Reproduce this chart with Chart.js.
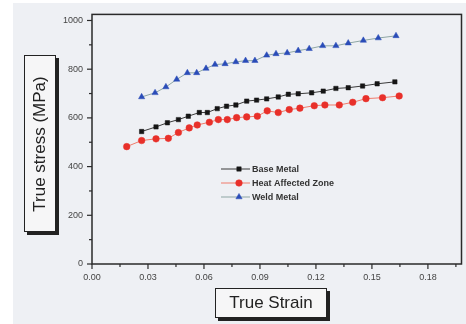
<!DOCTYPE html>
<html>
<head>
<meta charset="utf-8">
<script src="https://cdn.jsdelivr.net/npm/chart.js@4.4.0/dist/chart.umd.min.js"></script>
<style>
  html, body { margin: 0; padding: 0; background: #ffffff; }
  #wrap { position: relative; width: 466px; height: 324px; overflow: hidden; }
  #bg { position: absolute; left: 13px; top: 3px; right: 0; bottom: 0; background: #eef0f4; }
  #c { position: absolute; left: 0; top: 0; }
  .axbox {
    position: absolute; background: #f6f6f7; border: 1.5px solid #222;
    box-shadow: 3px 3px 0 #222; font-family: "Liberation Sans", Arial, sans-serif;
    color: #222; display: flex; align-items: center; justify-content: center;
    white-space: nowrap; box-sizing: border-box;
  }
  #ytitle { left: 24px; top: 55px; width: 32px; height: 177px; }
  #ytitle span { display: inline-block; transform: rotate(-90deg); font-size: 17px; }
  #xtitle { left: 215px; top: 288px; width: 112px; height: 30px; font-size: 17px; }
</style>
</head>
<body>
<div id="wrap">
  <div id="bg"></div>
  <canvas id="c" width="466" height="324"></canvas>
  <div id="ytitle" class="axbox"><span>True stress (MPa)</span></div>
  <div id="xtitle" class="axbox">True Strain</div>
</div>
<script>
// ---- data ----
const seriesNames = ["Base Metal", "Heat Affected Zone", "Weld Metal"];

const baseStrain = [0.0266,0.0343,0.0404,0.0463,0.0516,0.0575,0.0618,0.0671,0.0721,0.0771,0.0829,0.0882,0.0936,0.0998,0.1052,0.1105,0.1177,0.1239,0.1307,0.1373,0.1450,0.1528,0.1623];
const baseStress = [544,563,580,593,607,622,622,638,648,653,669,673,678,686,697,699,703,710,721,724,731,740,748];

const hazStrain = [0.0186,0.0266,0.0343,0.0409,0.0463,0.0521,0.0564,0.0629,0.0677,0.0725,0.0775,0.0829,0.0886,0.0939,0.0998,0.1057,0.1114,0.1191,0.1248,0.1325,0.1397,0.1468,0.1557,0.1646];
const hazStress = [482,507,514,516,540,559,571,582,593,593,601,604,607,629,622,634,640,650,653,653,664,679,683,690];

const weldStrain = [0.0266,0.0338,0.0396,0.0454,0.0511,0.0561,0.0611,0.0659,0.0713,0.0771,0.0823,0.0873,0.0936,0.0986,0.1046,0.1105,0.1164,0.1236,0.1307,0.1373,0.1454,0.1534,0.1629];
const weldStress = [686,703,727,758,785,785,803,819,822,830,835,835,857,863,867,876,884,896,896,907,918,928,937];

const xTickLabels = ["0.00","0.03","0.06","0.09","0.12","0.15","0.18"];
const yTickLabels = ["0","200","400","600","800","1000"];

function toPoints(xs, ys) { return xs.map((x, i) => ({ x: x, y: ys[i] })); }

const styles = [
  { line: "#3a3a3a", fill: "#151515", shape: "rect", r: 3.1 },
  { line: "#f07a6a", fill: "#e8302a", shape: "circle", r: 3.3 },
  { line: "#8ea6a4", fill: "#2a4cb8", shape: "triangle", r: 3.6 }
];
const dataSets = [toPoints(baseStrain, baseStress), toPoints(hazStrain, hazStress), toPoints(weldStrain, weldStress)];

const datasets = dataSets.map((d, i) => ({
  label: seriesNames[i],
  data: d,
  borderColor: styles[i].line,
  borderWidth: 1,
  backgroundColor: styles[i].fill,
  pointBackgroundColor: styles[i].fill,
  pointBorderColor: styles[i].fill,
  pointBorderWidth: 0.5,
  pointStyle: styles[i].shape,
  pointRadius: styles[i].r,
  showLine: true,
  tension: 0
}));

const tickFont = { family: "'Liberation Sans', Arial, sans-serif", size: 9 };

const framePlugin = {
  id: "frame",
  afterDraw(chart) {
    const ctx = chart.ctx, a = chart.chartArea;
    const xs = chart.scales.x, ys = chart.scales.y;
    ctx.save();
    ctx.strokeStyle = "#2a2a2a";
    ctx.lineWidth = 1.5;
    ctx.strokeRect(a.left, a.top, a.right - a.left, a.bottom - a.top);
    ctx.lineWidth = 1.2;
    for (let k = 0; k <= 13; k++) {
      const v = k * 0.015;
      const px = xs.getPixelForValue(v);
      if (px > a.right + 0.5) break;
      const len = (k % 2 === 0) ? 5 : 3;
      ctx.beginPath(); ctx.moveTo(px, a.bottom); ctx.lineTo(px, a.bottom + len); ctx.stroke();
    }
    for (let k = 0; k <= 10; k++) {
      const v = k * 100;
      const py = ys.getPixelForValue(v);
      const len = (k % 2 === 0) ? 5 : 3;
      ctx.beginPath(); ctx.moveTo(a.left, py); ctx.lineTo(a.left - len, py); ctx.stroke();
    }
    // legend
    const lx = 221, ly = [169, 183, 197];
    ctx.font = "bold 9px 'Liberation Sans', Arial, sans-serif";
    ctx.textBaseline = "middle";
    datasets.forEach((ds, i) => {
      ctx.strokeStyle = ds.borderColor;
      ctx.lineWidth = 1;
      ctx.beginPath(); ctx.moveTo(lx, ly[i]); ctx.lineTo(lx + 29, ly[i]); ctx.stroke();
      ctx.fillStyle = ds.pointBackgroundColor;
      ctx.strokeStyle = ds.pointBorderColor;
      ctx.lineWidth = 0.5;
      Chart.helpers.drawPoint(ctx, { pointStyle: ds.pointStyle, radius: ds.pointRadius, borderWidth: 0.5, rotation: 0 }, lx + 18, ly[i]);
      ctx.fillStyle = "#333";
      ctx.fillText(ds.label, lx + 31, ly[i] + 0.5);
    });
    ctx.restore();
  }
};

new Chart(document.getElementById("c"), {
  type: "scatter",
  data: { datasets: datasets },
  options: {
    responsive: false,
    animation: false,
    layout: { padding: { top: 13, right: 4, left: 0, bottom: 0 } },
    plugins: { legend: { display: false }, tooltip: { enabled: false } },
    scales: {
      x: {
        type: "linear", min: 0, max: 0.198,
        afterFit(s) { s.height = 60; },
        afterBuildTicks(s) { s.ticks = xTickLabels.map(t => ({ value: parseFloat(t) })); },
        border: { display: false },
        grid: { display: false, drawTicks: false },
        ticks: {
          autoSkip: false, padding: 8,
          font: tickFont, color: "#444", maxRotation: 0,
          callback: (v, i) => xTickLabels[i]
        }
      },
      y: {
        type: "linear", min: 0, max: 1025,
        afterFit(s) { s.width = 92; },
        afterBuildTicks(s) { s.ticks = yTickLabels.map(t => ({ value: parseFloat(t) })); },
        border: { display: false },
        grid: { display: false, drawTicks: false },
        ticks: {
          autoSkip: false, padding: 9,
          font: tickFont, color: "#444",
          callback: (v, i) => yTickLabels[i]
        }
      }
    }
  },
  plugins: [framePlugin]
});
</script>
</body>
</html>
